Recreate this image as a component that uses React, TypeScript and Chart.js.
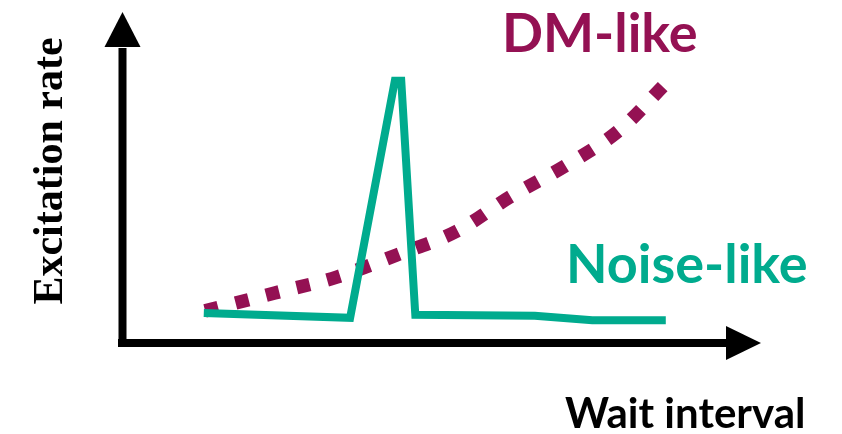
import React, { useEffect, useRef } from "react";
import { Chart, registerables } from "chart.js";

Chart.register(...registerables);

// Wait interval (arbitrary units 0-100) and excitation rate (0-100)
const noiseX = [12.8, 35.7, 42.7, 43.7, 45.9, 64.6, 73.6, 85.1];
const noiseY = [9.1, 7.6, 79.2, 79.2, 8.5, 8.2, 6.9, 6.9];

const dmX = [13.0, 23.9, 33.6, 43.0, 52.4, 60.7, 69.6, 77.9, 85.0];
const dmY = [9.7, 15.1, 19.9, 26.6, 33.8, 44.1, 53.8, 64.4, 78.2];

const xRange = [0, 100];
const yRange = [0, 100];

const dmLabel = "DM-like";
const noiseLabel = "Noise-like";
const xTitle = "Wait interval";
const yTitle = "Excitation rate";

const GREEN = "#00ab8e";
const MAGENTA = "#941153";

const decorPlugin = {
  id: "decor",
  beforeDatasetsDraw(chart: any) {
    const { ctx, chartArea } = chart;
    const { left, top, right, bottom } = chartArea;
    ctx.save();
    ctx.fillStyle = "#000";
    ctx.strokeStyle = "#000";
    ctx.lineWidth = 8;
    ctx.lineCap = "butt";
    // y axis
    ctx.beginPath();
    ctx.moveTo(left + 0.5, bottom + 4);
    ctx.lineTo(left + 0.5, top + 36);
    ctx.stroke();
    ctx.beginPath();
    ctx.moveTo(left + 0.5, top);
    ctx.lineTo(left - 17.5, top + 35);
    ctx.lineTo(left + 18.5, top + 35);
    ctx.closePath();
    ctx.fill();
    // x axis
    ctx.beginPath();
    ctx.moveTo(left - 4, bottom);
    ctx.lineTo(right - 34, bottom);
    ctx.stroke();
    ctx.beginPath();
    ctx.moveTo(right, bottom);
    ctx.lineTo(right - 35, bottom - 17);
    ctx.lineTo(right - 35, bottom + 17);
    ctx.closePath();
    ctx.fill();
    ctx.restore();
  },
  afterDraw(chart: any) {
    const { ctx } = chart;
    ctx.save();
    ctx.textAlign = "left";
    ctx.textBaseline = "alphabetic";
    ctx.font = "bold 54px Lato";
    ctx.fillStyle = MAGENTA;
    ctx.fillText(dmLabel, 502, 52);
    ctx.fillStyle = GREEN;
    ctx.fillText(noiseLabel, 566, 283);
    ctx.font = "bold 42px Lato";
    ctx.fillStyle = "#000";
    ctx.fillText(xTitle, 565, 428);
    ctx.translate(62, 171);
    ctx.rotate(-Math.PI / 2);
    ctx.textAlign = "center";
    ctx.font = "bold 42px 'Liberation Serif'";
    ctx.fillText(yTitle, 0, 0);
    ctx.restore();
  },
};

export default function App() {
  const ref = useRef<HTMLCanvasElement | null>(null);
  useEffect(() => {
    if (!ref.current) return;
    const chart = new Chart(ref.current, {
      type: "line",
      data: {
        datasets: [
          {
            label: noiseLabel,
            data: noiseX.map((x, i) => ({ x, y: noiseY[i] })),
            borderColor: GREEN,
            borderWidth: 8,
            borderJoinStyle: "miter",
            borderCapStyle: "butt",
            pointRadius: 0,
            tension: 0,
            fill: false,
            clip: false,
          } as any,
          {
            label: dmLabel,
            data: dmX.map((x, i) => ({ x, y: dmY[i] })),
            borderColor: MAGENTA,
            borderWidth: 13.5,
            borderDash: [13.5, 18],
            borderCapStyle: "butt",
            cubicInterpolationMode: "monotone",
            pointRadius: 0,
            fill: false,
            clip: false,
          } as any,
        ],
      },
      options: {
        animation: false,
        responsive: false,
        maintainAspectRatio: false,
        layout: { padding: { left: 122, right: 81, top: 12, bottom: 91 } },
        plugins: {
          legend: { display: false },
          tooltip: { enabled: false },
          title: { display: false },
        },
        scales: {
          x: { type: "linear", min: xRange[0], max: xRange[1], display: false },
          y: { type: "linear", min: yRange[0], max: yRange[1], display: false },
        },
      },
      plugins: [decorPlugin],
    });
    return () => chart.destroy();
  }, []);
  return (
    <div style={{ position: "fixed", left: 0, top: 0, width: 842, height: 434, background: "#fff" }}>
      <canvas ref={ref} width={842} height={434} style={{ display: "block" }} />
    </div>
  );
}
